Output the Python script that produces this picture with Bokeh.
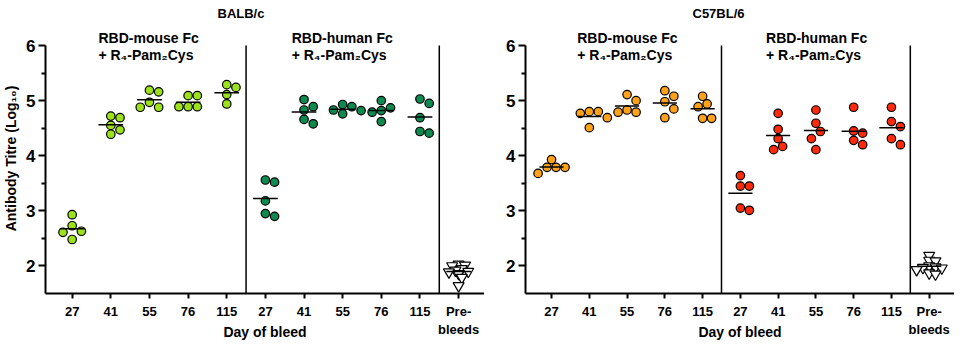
import numpy as np
from bokeh.plotting import figure
from bokeh.layouts import row
from bokeh.models import FixedTicker, Range1d
from bokeh.embed import file_html
from bokeh.resources import INLINE
from bokeh.core.properties import value

# ---------------- data ----------------
days = ["27", "41", "55", "76", "115"]
prebleed_label = "Pre-\nbleeds"
group_line1 = ["RBD-mouse Fc", "RBD-human Fc"]
group_line2 = ["+ R\u2084-Pam\u2082Cys", "+ R\u2084-Pam\u2082Cys"]
panel_titles = ["BALB/c", "C57BL/6"]

balb_mouse = [[2.93, 2.73, 2.63, 2.61, 2.48],
              [4.72, 4.69, 4.55, 4.47, 4.39],
              [5.19, 5.16, 4.97, 4.88, 4.88],
              [5.09, 5.09, 4.89, 4.89, 4.89],
              [5.29, 5.24, 5.11, 4.94]]
balb_human = [[3.56, 3.52, 3.18, 2.95, 2.90],
              [5.02, 4.89, 4.83, 4.66, 4.58],
              [4.93, 4.89, 4.83, 4.82, 4.76],
              [5.00, 4.87, 4.82, 4.79, 4.62],
              [5.03, 4.95, 4.69, 4.44, 4.41]]
balb_pre = [2.03, 2.01, 2.00, 1.95, 1.92, 1.90, 1.89, 1.86, 1.79, 1.64]

c57_mouse = [[3.93, 3.79, 3.79, 3.79, 3.68],
             [4.80, 4.80, 4.77, 4.69, 4.51],
             [5.11, 5.00, 4.83, 4.79, 4.79],
             [5.18, 5.08, 4.98, 4.85, 4.69],
             [5.08, 4.94, 4.89, 4.68, 4.68]]
c57_human = [[3.64, 3.45, 3.45, 3.05, 3.01],
             [4.77, 4.48, 4.31, 4.17, 4.11],
             [4.83, 4.59, 4.44, 4.31, 4.11],
             [4.88, 4.45, 4.41, 4.28, 4.20],
             [4.88, 4.62, 4.53, 4.31, 4.20]]
c57_pre = [2.19, 2.10, 2.09, 2.00, 1.98, 1.97, 1.96, 1.93, 1.87, 1.85]

colors = {"balb_mouse": "#9BE21A", "balb_human": "#0E8A50",
          "c57_mouse": "#FFA21A", "c57_human": "#FF2A0C"}

FONT = "Liberation Sans"
Y_MIN, Y_MAX, Y_TOP = 1.5, 6.0, 6.40
X_MIN, X_MAX = 0.31, 11.67
PX_X = 37.8   # px per category
PX_Y = 55.0   # px per log unit


def swarm(vals, diam, min_dist, step_frac=0.5):
    """Simple beeswarm: offsets (in category units) so markers don't collide."""
    vals = np.asarray(vals, dtype=float)
    order = np.argsort(-vals, kind="stable")
    placed = []
    offs = np.zeros(len(vals))
    step = diam * step_frac
    cands = [0.0] + [s * k * step for k in range(1, 16) for s in (1, -1)]
    for i in order:
        y = vals[i] * PX_Y
        for c in cands:
            if all((c - px) ** 2 + (y - py) ** 2 >= min_dist ** 2 for px, py in placed):
                break
        placed.append((c, y))
        offs[i] = c / PX_X
    return offs


def make_panel(title, title_offset, mouse, human, pre, cm, ch, width, border_left, ylabel):
    p = figure(width=width, height=342, output_backend="svg", toolbar_location=None,
               x_range=Range1d(X_MIN, X_MAX), y_range=Range1d(Y_MIN, Y_TOP),
               min_border_left=border_left, min_border_right=0,
               min_border_top=0, min_border_bottom=0)
    p.outline_line_color = None
    p.grid.visible = False
    p.background_fill_color = "white"
    p.border_fill_color = "white"

    # title
    p.title.text = title
    p.title.align = "left"
    p.title.offset = title_offset
    p.title.text_font = FONT
    p.title.text_font_size = "13px"
    p.title.text_font_style = "bold"
    p.title.text_color = "black"
    p.title.standoff = 6

    n = len(days)
    groups = [(mouse, cm, 1), (human, ch, n + 1)]
    for vals_list, col, start in groups:
        xs, ys = [], []
        mx0, mx1, my = [], [], []
        for j, vals in enumerate(vals_list):
            xc = start + j
            offs = swarm(vals, 9.0, 8.5)
            xs += list(xc + offs)
            ys += list(vals)
            m = float(np.mean(vals))
            mx0.append(xc - 0.32); mx1.append(xc + 0.32); my.append(m)
        p.scatter(xs, ys, marker="circle", size=8.5, fill_color=col,
                  line_color="black", line_width=1.2)
        p.segment(x0=mx0, y0=my, x1=mx1, y1=my, line_color="black", line_width=1.5)

    # pre-bleeds
    xpre = 2 * n + 1
    offs = swarm(pre, 9.0, 4.5, step_frac=0.35)
    p.scatter(list(xpre + offs), pre, marker="inverted_triangle", size=11,
              fill_color="white", line_color="black", line_width=1.2)
    mpre = float(np.mean(pre))
    p.segment(x0=[xpre - 0.32], y0=[mpre], x1=[xpre + 0.32], y1=[mpre],
              line_color="black", line_width=1.5)

    # group dividers
    divs = [n + 0.5, 2 * n + 0.5]
    p.segment(x0=divs, y0=[Y_MIN] * 2, x1=divs, y1=[Y_MAX] * 2,
              line_color="black", line_width=1.5)

    # group labels
    lx = [1 + 0.68, n + 1 + 0.68]
    p.text(x=lx, y=[6.145] * 2, text=group_line1, text_font=value(FONT),
           text_font_size="14px", text_font_style="bold", text_baseline="middle",
           text_align="left", text_color="black")
    p.text(x=lx, y=[5.82] * 2, text=group_line2, text_font=value(FONT),
           text_font_size="14px", text_font_style="bold", text_baseline="middle",
           text_align="left", text_color="black")

    # axes
    ticks = list(range(1, 2 * n + 2))
    labels = days + days + [prebleed_label]
    p.xaxis.ticker = FixedTicker(ticks=ticks)
    p.xaxis.major_label_overrides = {t: l for t, l in zip(ticks, labels)}
    p.xaxis.axis_label = "Day of bleed"
    p.yaxis.ticker = FixedTicker(ticks=[2, 3, 4, 5, 6], minor_ticks=[2.5, 3.5, 4.5, 5.5])
    p.yaxis.bounds = (Y_MIN, Y_MAX)
    if ylabel:
        p.yaxis.axis_label = ylabel
    for ax in (p.xaxis, p.yaxis):
        ax.axis_line_width = 2
        ax.axis_line_color = "black"
        ax.major_tick_line_width = 2
        ax.minor_tick_line_width = 2
        ax.major_tick_in = 0
        ax.minor_tick_in = 0
        ax.major_label_text_font = FONT
        ax.major_label_text_font_style = "bold"
        ax.major_label_text_color = "black"
        ax.axis_label_text_font = FONT
        ax.axis_label_text_font_style = "bold"
        ax.axis_label_text_font_size = "14px"
        ax.axis_label_text_color = "black"
    p.xaxis.major_tick_out = 5
    p.xaxis.minor_tick_line_color = None
    p.xaxis.major_label_text_font_size = "13px"
    p.xaxis.major_label_standoff = 5
    p.xaxis.axis_label_standoff = -16
    p.yaxis.major_tick_out = 7
    p.yaxis.minor_tick_out = 4
    p.yaxis.major_label_text_font_size = "17px"
    p.yaxis.major_label_standoff = 3
    p.yaxis.axis_label_standoff = 4
    return p


p1 = make_panel(panel_titles[0], 172, balb_mouse, balb_human, balb_pre,
                colors["balb_mouse"], colors["balb_human"], 484, 42,
                "Antibody Titre (Log\u2081\u2080)")
p2 = make_panel(panel_titles[1], 167, c57_mouse, c57_human, c57_pre,
                colors["c57_mouse"], colors["c57_human"], 470, 41, None)

layout = row(p1, p2)
open("out.html", "w").write(file_html(layout, INLINE))
